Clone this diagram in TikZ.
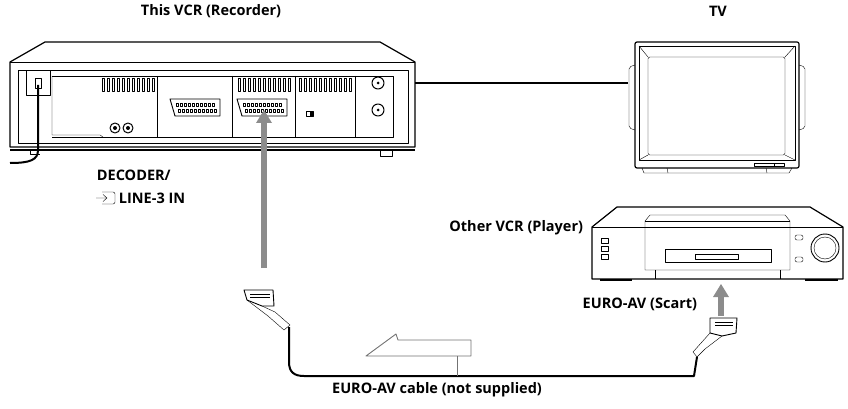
\documentclass[tikz,border=0pt]{standalone}
\usepackage{fontspec}
\setmainfont{Open Sans}
\tikzset{
  lbl/.style={inner sep=0.75pt,font=\bfseries\fontsize{14.5}{17}\selectfont},
  pushup/.style={draw=black!45,line width=6pt},
  pushhead/.style={fill=black!45},
  vent/.style={line width=0.5pt},
}
\begin{document}
\begin{tikzpicture}[x=1pt,y=1pt,yscale=-1,xscale=1,line join=round]
\useasboundingbox (0,0) rectangle (848,409);

%Shape: VCR rear (recorder)
\draw[line width=1.2pt] (10,62) -- (45,42) -- (380,42) -- (415,62) -- (415,147) -- (10,147) -- cycle;
\draw (10,62) -- (415,62);
\draw (18,70) -- (408,70) -- (408,143) -- (18,143) -- cycle;
\draw[line width=2pt] (10,150) -- (415,150);
\draw (52,76) -- (393,76) -- (393,137) -- (52,137);
\draw (52,76) -- (52,135) -- (100,135) -- (103,137);
\draw (26,70) rectangle (50,95);
\draw (35,78) rectangle (41,88);
\draw[line width=2pt] (38,85) -- (38,150) .. controls (38,160) and (30,163) .. (10,163);
\draw (30,150) -- (30,154) -- (40,154);
\draw (380,150) rectangle (392,156);
% dividers
\foreach \xd in {157,232,295,355} \draw (\xd,76) -- (\xd,137);
% vent grilles
\foreach \xs/\n in {102/10,238/10,299/10} {
  \foreach \k in {0,...,\n} \draw[vent] (\xs+\k*5,78) rectangle (\xs+\k*5+2.5,91);
}
% RCA jacks
\foreach \xj in {115,128} {\draw[line width=1pt] (\xj,128) circle (5); \fill (\xj,128) circle (2);}
% scart sockets
\foreach \xs in {170,237} {
  \draw[line width=0.9pt] (\xs,99) -- (\xs+50,99) -- (\xs+50,116) -- (\xs+5,116) -- cycle;
  \foreach \k in {0,...,9} {\draw[vent] (\xs+6+\k*4,103) rectangle (\xs+8.5+\k*4,106);
                            \draw[vent] (\xs+8+\k*4,109) rectangle (\xs+10.5+\k*4,112);}
}
\draw (306,111) rectangle (313,116); \fill (310,111) rectangle (313,116);
% aerial sockets
\foreach \ya in {83,110} {\draw[line width=1pt] (378,\ya) circle (6); \fill (378,\ya) circle (1.5);}

%Straight Lines: aerial to TV
\draw[line width=2pt] (415,83) -- (628,83);

%Shape: TV
\draw[line width=1.2pt, rounded corners=2pt] (635,42) rectangle (799,168);
\draw (639,46) rectangle (795,160);
\draw[rounded corners=2pt] (648,57) rectangle (785,155);
\draw (639,46) -- (648,57) (795,46) -- (785,57) (639,160) -- (648,155) (795,160) -- (785,155);
\draw[rounded corners=2pt] (635,65) -- (629,67) -- (629,128) -- (635,130);
\draw[rounded corners=2pt] (799,65) -- (805,67) -- (805,128) -- (799,130);
\draw (642,168) -- (644,173) -- (789,173) -- (792,168);
\draw (667,168) -- (668,173) (766,168) -- (767,173);
\draw (754,163) rectangle (784,166); \draw (774,163) -- (774,166);

%Shape: other VCR (player)
\draw[line width=1.2pt] (592,227) -- (617,207) -- (810,207) -- (843,227) -- (843,279) -- (592,279) -- cycle;
\draw (592,227) -- (843,227);
\draw (645,221) -- (650,215) -- (785,215) -- (790,221) -- (790,270) -- (645,270) -- cycle;
\draw (645,221) -- (790,221);
\draw (665,249) rectangle (771,262);
\draw (695,254) rectangle (738,259);
\draw (655,270) -- (655,279) (780,270) -- (780,279);
\foreach \yb in {238,246,254} \draw (601,\yb) rectangle (608,\yb+5);
\draw[rounded corners=2pt] (795,235) rectangle (803,240);
\draw[rounded corners=2pt] (795,257) rectangle (803,262);
\draw[line width=0.9pt] (825,248) circle (14);
\draw (825,248) circle (11);
\draw[line width=1.5pt] (600,280) -- (632,280) (805,280) -- (838,280);

%Shape: scart plugs
\draw[line width=0.9pt] (244,290) -- (273,290) -- (274,306) -- (262,306) -- (247,300) -- cycle;
\draw (250,294) -- (270,294) (250,297) -- (270,297);
\draw (262,306) -- (275,312) -- (290,325) -- (284,330) -- (268,316) -- (247,300);
\draw[line width=0.9pt] (710,318) -- (737,318) -- (736,333) -- (722,336) -- (710,333) -- cycle;
\draw (715,322) -- (733,322) (715,325) -- (733,325);
\draw (722,336) -- (705,349) -- (697,357) -- (693,352) -- (710,333);

%Straight Lines: scart cable
\draw[line width=2pt] (289,327) -- (289,362) .. controls (289,372) and (294,376) .. (304,376) -- (694,376) -- (697,357);

% push arrows
\draw[pushup] (264,268) -- (264,122);
\fill[pushhead] (256,123) -- (264,110) -- (272,123) -- cycle;
\draw[pushup] (721,316) -- (721,296);
\fill[pushhead] (713,297) -- (721,284) -- (729,297) -- cycle;

%Shape: hollow direction arrow
\draw[black!55, line width=0.9pt, fill=white] (366,356) -- (396,334) -- (398,340) -- (471,340) -- (471,356) -- cycle;
\draw[black!55, line width=1pt] (457,356) -- (457,376);

% Text Node
\node[lbl] (rec) at (211,11) {This VCR (Recorder)};
% Text Node
\node[lbl] (tv) at (718,11) {TV};
% Text Node
\node[lbl, anchor=west] (dec) at (96,175) {DECODER/};
% Text Node
\node[lbl, anchor=west] (line) at (118,198) {LINE-3 IN};
\draw (96,198) -- (107,198) (103,194.5) -- (107,198) -- (103,201.5);
\draw[rounded corners=2pt] (102,192) -- (115,192) -- (115,204) -- (102,204);
% Text Node
\node[lbl, anchor=east] (play) at (584,228) {Other VCR (Player)};
% Text Node
\node[lbl, anchor=east] (scart) at (698,304) {EURO-AV (Scart)};
% Text Node
\node[lbl] (cable) at (437,390) {EURO-AV cable (not supplied)};
\end{tikzpicture}
\end{document}
